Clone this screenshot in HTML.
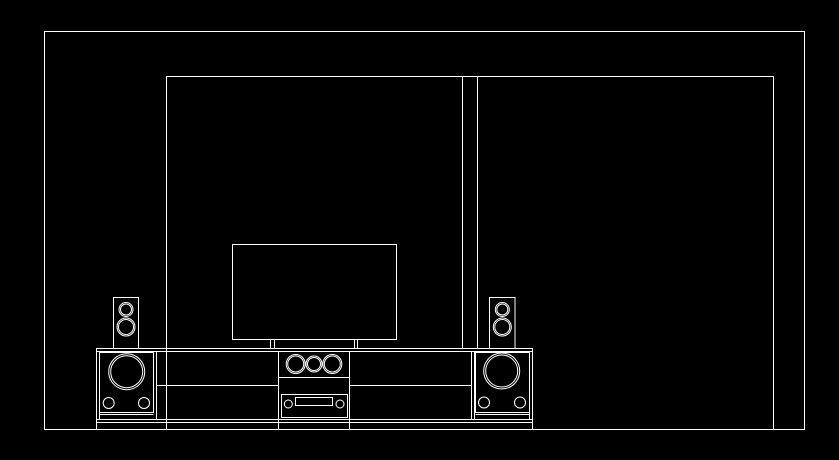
<!DOCTYPE html>
<html><head><style>html,body{margin:0;padding:0;background:#000}svg{display:block}</style></head>
<body>
<svg width="839" height="460" viewBox="0 0 839 460" xmlns="http://www.w3.org/2000/svg" fill="none" stroke="#fff" stroke-width="1">
<rect x="44.5" y="31.5" width="760" height="398"/>
<polyline points="166.5,429 166.5,76.5 773.5,76.5 773.5,429"/>
<line x1="462.5" y1="76.5" x2="462.5" y2="348"/>
<line x1="477.5" y1="76.5" x2="477.5" y2="348"/>
<!-- TV -->
<rect x="232.5" y="244.5" width="164" height="95"/>
<line x1="270.5" y1="340" x2="270.5" y2="348"/><line x1="274.5" y1="340" x2="274.5" y2="348"/>
<line x1="354.5" y1="340" x2="354.5" y2="348"/><line x1="357.5" y1="340" x2="357.5" y2="348"/>
<!-- tall speakers -->
<rect x="113.5" y="297.5" width="25" height="51"/>
<circle cx="126" cy="309.5" r="7"/><circle cx="126" cy="309.5" r="5.5"/>
<circle cx="126" cy="327" r="9"/><circle cx="126" cy="327" r="7.5"/>
<rect x="489.5" y="297.5" width="25.5" height="51"/>
<circle cx="502.3" cy="309.5" r="7"/><circle cx="502.3" cy="309.5" r="5.5"/>
<circle cx="502.3" cy="327" r="9"/><circle cx="502.3" cy="327" r="7.5"/>
<!-- cabinet -->
<rect x="96.5" y="348.5" width="436" height="81"/>
<line x1="96.5" y1="351.5" x2="532.5" y2="351.5"/>
<line x1="96.5" y1="419.5" x2="532.5" y2="419.5"/>
<line x1="96.5" y1="422.5" x2="532.5" y2="422.5"/>
<line x1="99.5" y1="351.5" x2="99.5" y2="419.5"/>
<line x1="529.5" y1="351.5" x2="529.5" y2="419.5"/>
<line x1="156.5" y1="351.5" x2="156.5" y2="419.5"/>
<line x1="278.5" y1="351.5" x2="278.5" y2="429.5"/>
<line x1="349.5" y1="351.5" x2="349.5" y2="429.5"/>
<line x1="474.5" y1="351.5" x2="474.5" y2="419.5"/>
<line x1="166.5" y1="422.5" x2="166.5" y2="429.5"/>
<line x1="157" y1="385.5" x2="278.5" y2="385.5"/>
<line x1="349.5" y1="385.5" x2="471.5" y2="385.5"/>
<line x1="471.5" y1="351.5" x2="471.5" y2="419.5"/>
<!-- left sub speaker -->
<rect x="99.5" y="352.5" width="54" height="60"/>
<line x1="99.5" y1="414.5" x2="153.5" y2="414.5"/>
<circle cx="126.7" cy="371.7" r="18"/><circle cx="126.7" cy="371.7" r="16"/>
<circle cx="108.7" cy="403" r="5.5"/><circle cx="144" cy="403" r="5.5"/>
<!-- right sub speaker -->
<rect x="475.5" y="352.5" width="54" height="60"/>
<line x1="475.5" y1="414.5" x2="529.5" y2="414.5"/>
<circle cx="501.7" cy="371" r="18"/><circle cx="501.7" cy="371" r="16"/>
<circle cx="484" cy="402.5" r="5.5"/><circle cx="520" cy="402.5" r="5.5"/>
<!-- center -->
<circle cx="295.7" cy="364" r="9.5"/><circle cx="295.7" cy="364" r="8"/>
<circle cx="314" cy="364" r="8"/><circle cx="314" cy="364" r="6.5"/>
<circle cx="332.3" cy="364" r="9.5"/><circle cx="332.3" cy="364" r="8"/>
<line x1="278.5" y1="377.5" x2="349.5" y2="377.5"/>
<rect x="281.5" y="394.5" width="66" height="23"/>
<rect x="295.5" y="397.5" width="37" height="8"/>
<circle cx="288.3" cy="404" r="4"/><circle cx="340" cy="404" r="4"/>
</svg>
</body></html>
